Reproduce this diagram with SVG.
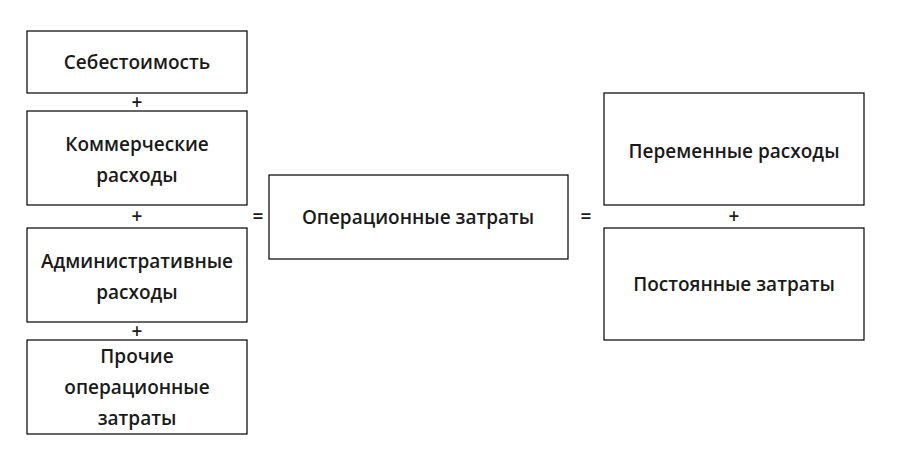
<svg xmlns="http://www.w3.org/2000/svg" width="900" height="468" viewBox="0 0 900 468">
<style>
rect{fill:#fff;stroke:#000;stroke-width:1.2}
text{font-family:"Open Sans","DejaVu Sans",sans-serif;font-size:19px;font-weight:600;fill:#1a1a1a;text-anchor:middle}
</style>
<rect x="0" y="0" width="900" height="468" style="stroke:none"/>
<g id="n1"><rect x="27" y="31" width="220" height="62"/><text x="137" y="69">Себестоимость</text></g>
<g id="n2"><rect x="27" y="111" width="220" height="94"/><text x="137" y="151">Коммерческие</text><text x="137" y="182">расходы</text></g>
<g id="n3"><rect x="27" y="228" width="220" height="94"/><text x="137" y="268">Административные</text><text x="137" y="299">расходы</text></g>
<g id="n4"><rect x="27" y="340" width="220" height="94"/><text x="137" y="363">Прочие</text><text x="137" y="394">операционные</text><text x="137" y="425">затраты</text></g>
<g id="n5"><rect x="269" y="175" width="299" height="84"/><text x="418" y="224">Операционные затраты</text></g>
<g id="n6"><rect x="604" y="93" width="260" height="112"/><text x="734" y="158">Переменные расходы</text></g>
<g id="n7"><rect x="604" y="228" width="260" height="112"/><text x="734" y="291">Постоянные затраты</text></g>
<g id="connectors">
<text x="137" y="109">+</text><text x="137" y="223">+</text><text x="137" y="338">+</text><text x="734" y="223">+</text>
<text x="258" y="223">=</text><text x="586" y="223">=</text>
</g>
</svg>
